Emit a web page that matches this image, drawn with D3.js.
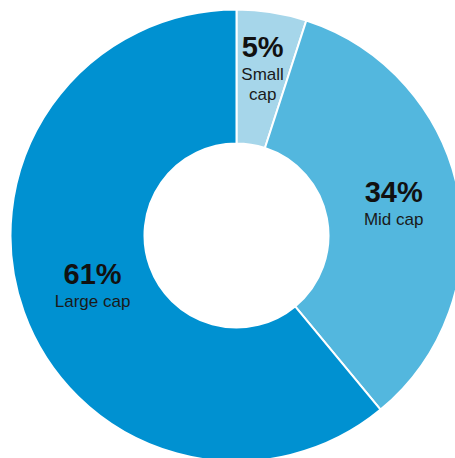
<!DOCTYPE html>
<html>
<head>
<meta charset="utf-8">
<script src="https://cdn.jsdelivr.net/npm/d3@7"></script>
<style>
  html, body { margin: 0; padding: 0; background: #ffffff; }
  svg { display: block; }
</style>
</head>
<body>
<svg id="chart" width="455" height="458"></svg>
<script>
// Data
const categories = ["Small cap", "Mid cap", "Large cap"];
const labelLines = [["Small", "cap"], ["Mid cap"], ["Large cap"]];
const values = [5, 34, 61];
const percentLabels = ["5%", "34%", "61%"];
const colors = ["#a6d6ea", "#53b7de", "#0091d1"];

const W = 455, H = 458;
const cx = 236.5, cy = 235.5;
const outerR = 226, innerR = 92;
const labelRadii = [167, 160, 153];

const svg = d3.select("#chart");
const g = svg.append("g").attr("transform", `translate(${cx},${cy})`);

const pie = d3.pie().sort(null).value(d => d.value);
const data = categories.map((c, i) => ({ name: c, value: values[i], i }));
const arcs = pie(data);

const arc = d3.arc().innerRadius(innerR).outerRadius(outerR);

g.selectAll("path.slice")
  .data(arcs)
  .join("path")
  .attr("class", "slice")
  .attr("d", arc)
  .attr("fill", d => colors[d.data.i])
  .attr("stroke", "#ffffff")
  .attr("stroke-width", 2)
  .attr("stroke-linejoin", "miter");

const labels = g.selectAll("g.label")
  .data(arcs)
  .join("g")
  .attr("class", "label")
  .attr("transform", d => {
    const r = labelRadii[d.data.i];
    const c = d3.arc().innerRadius(r).outerRadius(r).centroid(d);
    return `translate(${c[0]},${c[1]})`;
  });

labels.each(function(d) {
  const sel = d3.select(this);
  const lines = labelLines[d.data.i];
  const base = -3.5 - (lines.length - 1) * 10;
  sel.append("text")
    .attr("text-anchor", "middle")
    .attr("y", base)
    .attr("font-family", "'Liberation Sans', Arial, sans-serif")
    .attr("font-weight", "bold")
    .attr("font-size", 29)
    .attr("fill", "#111111")
    .text(percentLabels[d.data.i]);
  lines.forEach((ln, k) => {
    sel.append("text")
      .attr("text-anchor", "middle")
      .attr("y", base + 23 + k * 19.5)
      .attr("font-family", "'Liberation Sans', Arial, sans-serif")
      .attr("font-size", 17)
      .attr("fill", "#1a1a1a")
      .text(ln);
  });
});
</script>
</body>
</html>
